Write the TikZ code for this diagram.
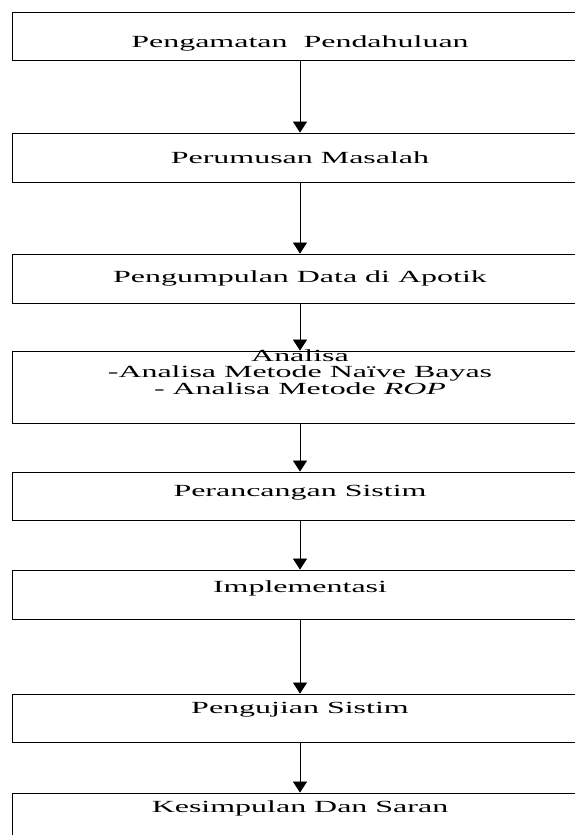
\documentclass[tikz,border=0pt]{standalone}
\usepackage{fontspec}
\setmainfont{Liberation Serif}
\usetikzlibrary{arrows.meta}
\newcommand{\wtxt}[1]{\scalebox{1.88}[1]{#1}}
\tikzset{
  box/.style={draw, line width=0.8pt, minimum width=573pt, inner sep=0pt},
  lbl/.style={anchor=base, inner sep=0pt, font=\fontsize{17}{17}\selectfont},
  arr/.style={line width=0.8pt, -{Triangle[width=14pt,length=11pt]}}
}
\begin{document}
\begin{tikzpicture}[x=1pt,y=1pt]
\clip (0,0) rectangle (575,835);
\fill[white] (0,0) rectangle (575,835);
\coordinate (axis) at (300,0);
\node[box, minimum height=48pt] (b1) at (298.5,799) {};
\node[box, minimum height=49pt] (b2) at (298.5,677.5) {};
\node[box, minimum height=49pt] (b3) at (298.5,556.5) {};
\node[box, minimum height=72pt] (b4) at (298.5,448) {};
\node[box, minimum height=48pt] (b5) at (298.5,339) {};
\node[box, minimum height=49pt] (b6) at (298.5,240.5) {};
\node[box, minimum height=48pt] (b7) at (298.5,117) {};
\node[box, minimum height=57pt] (b8) at (298.5,13.5) {};

\node[lbl] (t1) at (300,787) {\wtxt{Pengamatan\ \ Pendahuluan}};
\node[lbl] (t2) at (300,671) {\wtxt{Perumusan Masalah}};
\node[lbl] (t3) at (300,552) {\wtxt{Pengumpulan Data di Apotik}};
\node[lbl] (t4a) at (300,473) {\wtxt{Analisa}};
\node[lbl] (t4b) at (300,457) {\wtxt{-Analisa Metode Naïve Bayas}};
\node[lbl] (t4c) at (300,440) {\wtxt{- Analisa Metode \textit{ROP}}};
\node[lbl] (t5) at (300,338) {\wtxt{Perancangan Sistim}};
\node[lbl] (t6) at (300,242) {\wtxt{Implementasi}};
\node[lbl] (t7) at (300,121) {\wtxt{Pengujian Sistim}};
\node[lbl] (t8) at (300,23) {\wtxt{Kesimpulan Dan Saran}};

\draw[arr] (b1.south -| axis) -- (b2.north -| axis);
\draw[arr] (b2.south -| axis) -- (b3.north -| axis);
\draw[arr] (b3.south -| axis) -- (b4.north -| axis);
\draw[arr] (b4.south -| axis) -- (b5.north -| axis);
\draw[arr] (b5.south -| axis) -- (b6.north -| axis);
\draw[arr] (b6.south -| axis) -- (b7.north -| axis);
\draw[arr] (b7.south -| axis) -- (b8.north -| axis);
\end{tikzpicture}
\end{document}
